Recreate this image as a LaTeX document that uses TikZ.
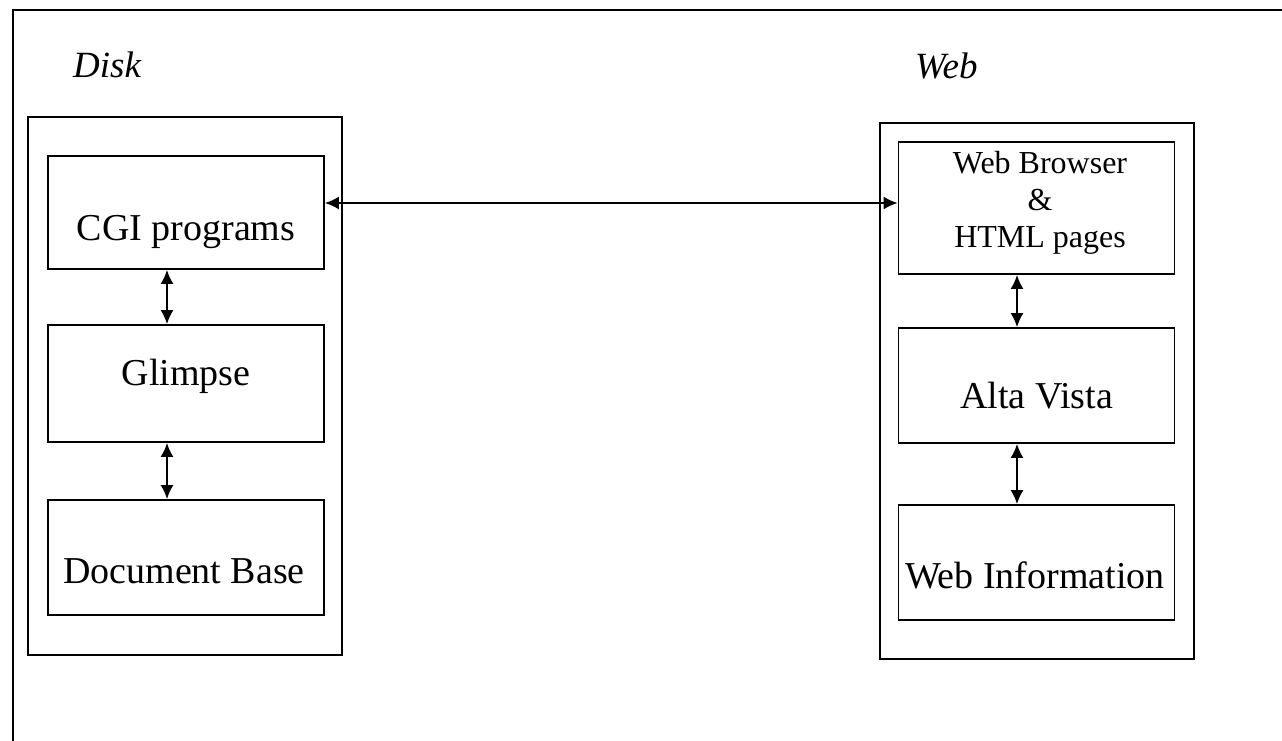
\documentclass[tikz,border=0pt]{standalone}
\usepackage{fontspec}
\setmainfont{Liberation Serif}
\usetikzlibrary{arrows.meta}
\begin{document}
\begin{tikzpicture}[x=1pt,y=-1pt,
  frame/.style={draw,line width=1.6pt,inner sep=0pt},
  module/.style={draw,line width=1.8pt,inner sep=0pt,minimum width=276pt},
  modtext/.style={anchor=base,inner sep=0pt,font=\fontsize{38}{41}\selectfont},
  title/.style={anchor=base west,inner sep=0pt,font=\fontsize{37}{40}\selectfont\itshape},
  link/.style={line width=1.8pt,{Latex[length=14pt,width=13pt]}-{Latex[length=14pt,width=13pt]}}]
\path[use as bounding box] (0,0) rectangle (1282,740);

% outer frame, runs off the page at right and bottom
\begin{scope}
\clip (0,0) rectangle (1282,740);
\draw[line width=1.6pt] (13,760) -- (13,10) -- (1300,10);
\end{scope}

\node[title] (disktitle) at (73,77) {Disk};
\node[title] (webtitle) at (915,78) {Web};

% disk side
\node[frame,minimum width=314pt,minimum height=538pt] (disk) at (185,386) {};
\node[module,minimum height=113pt] (cgi) at (186,212.5) {};
\node[module,minimum height=117pt] (glimpse) at (186,383.5) {};
\node[module,minimum height=115pt] (docbase) at (186,557.5) {};
\node[modtext] (cgitext) at (186,240) {CGI programs};
\node[modtext] (glimpsetext) at (186,385) {Glimpse};
\node[modtext] (docbasetext) at (184,583) {Document Base};

% web side
\node[frame,minimum width=314pt,minimum height=536pt] (web) at (1037,391) {};
\node[module,minimum height=132pt] (browser) at (1036.5,208) {};
\node[module,minimum height=115pt] (alta) at (1036.5,385.5) {};
\node[module,minimum height=115pt] (webinfo) at (1036.5,562.5) {};
\node[inner sep=0pt,align=center,font=\fontsize{32}{37}\selectfont] (browsertext) at (1040,203)
  {Web Browser\\ \&\\ HTML pages};
\node[modtext] (altatext) at (1036.5,408) {Alta Vista};
\node[modtext] (webinfotext) at (1035,588) {Web Information};

% connectors
\draw[link] ([yshift=9.5pt]cgi.east) -- ([yshift=9.5pt]cgi.east -| browser.west);
\draw[link] ([xshift=-19pt]cgi.south) -- ([xshift=-19pt]glimpse.north);
\draw[link] ([xshift=-19pt]glimpse.south) -- ([xshift=-19pt]docbase.north);
\draw[link] ([xshift=-19.5pt]browser.south) -- ([xshift=-19.5pt]alta.north);
\draw[link] ([xshift=-19.5pt]alta.south) -- ([xshift=-19.5pt]webinfo.north);
\end{tikzpicture}
\end{document}
